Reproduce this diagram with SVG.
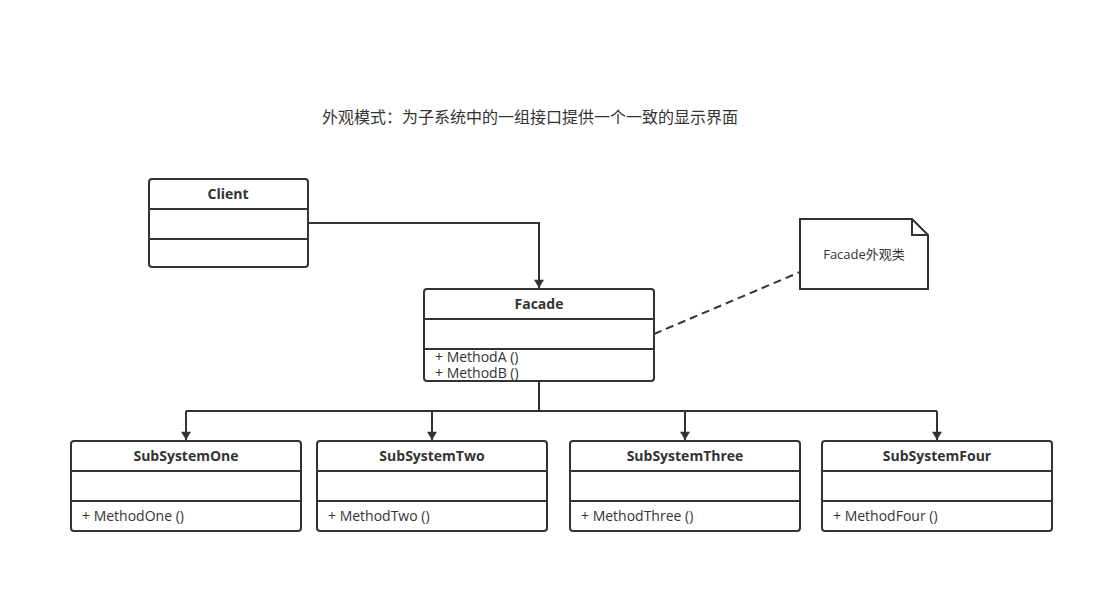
<svg xmlns="http://www.w3.org/2000/svg" width="1114" height="593" viewBox="0 0 1114 593">
<style>
.box{fill:#fff;stroke:#333;stroke-width:2}
.div{stroke:#333;stroke-width:2}
.t{font-family:"Open Sans","Noto Sans CJK SC",sans-serif;font-size:14px;fill:#333}
.b{font-weight:bold;text-anchor:middle}
.n{font-size:13px}
.con{fill:none;stroke:#333;stroke-width:2}
</style>
<defs>
<marker id="arr" viewBox="0 0 10 12" refX="10" refY="6" markerWidth="12" markerHeight="10" markerUnits="userSpaceOnUse" orient="auto">
<path d="M0,0 L10,6 L0,12 Z" fill="#333"/>
</marker>
</defs>
<rect width="1114" height="593" fill="#fff"/>
<text x="530" y="123" text-anchor="middle" font-family="'Noto Sans CJK SC',sans-serif" font-size="16" fill="#333">外观模式：为子系统中的一组接口提供一个一致的显示界面</text>
<g id="connectors">
<path class="con" d="M308,223 H539 V288" marker-end="url(#arr)"/>
<path class="con" d="M539,381 V411"/>
<path class="con" d="M186,411 H937"/>
<path class="con" d="M186,411 V440" marker-end="url(#arr)"/>
<path class="con" d="M432,411 V440" marker-end="url(#arr)"/>
<path class="con" d="M685,411 V440" marker-end="url(#arr)"/>
<path class="con" d="M937,411 V440" marker-end="url(#arr)"/>
<path class="con" d="M654,334 L800,272" stroke-dasharray="8,5"/>
</g>
<g id="client">
<rect class="box" x="149" y="179" width="159" height="88" rx="3"/>
<line class="div" x1="149" y1="209" x2="308" y2="209"/>
<line class="div" x1="149" y1="239" x2="308" y2="239"/>
<text class="t b" x="228" y="199">Client</text>
</g>
<g id="facade">
<rect class="box" x="424" y="289" width="230" height="92" rx="3"/>
<line class="div" x1="424" y1="319" x2="654" y2="319"/>
<line class="div" x1="424" y1="349" x2="654" y2="349"/>
<text class="t b" x="539" y="309">Facade</text>
<text class="t" x="435" y="362">+ MethodA ()</text>
<text class="t" x="435" y="378">+ MethodB ()</text>
</g>
<g id="note">
<path class="box" d="M800,219 H912 L928,235 V289 H800 Z"/>
<path class="con" d="M912,219 V235 H928"/>
<text class="t n" x="864" y="259" text-anchor="middle">Facade外观类</text>
</g>
<g id="subOne">
<rect class="box" x="71" y="441" width="230" height="90" rx="3"/>
<line class="div" x1="71" y1="471" x2="301" y2="471"/>
<line class="div" x1="71" y1="501" x2="301" y2="501"/>
<text class="t b" x="186" y="461">SubSystemOne</text>
<text class="t" x="82" y="521">+ MethodOne ()</text>
</g>
<g id="subTwo">
<rect class="box" x="317" y="441" width="230" height="90" rx="3"/>
<line class="div" x1="317" y1="471" x2="547" y2="471"/>
<line class="div" x1="317" y1="501" x2="547" y2="501"/>
<text class="t b" x="432" y="461">SubSystemTwo</text>
<text class="t" x="328" y="521">+ MethodTwo ()</text>
</g>
<g id="subThree">
<rect class="box" x="570" y="441" width="230" height="90" rx="3"/>
<line class="div" x1="570" y1="471" x2="800" y2="471"/>
<line class="div" x1="570" y1="501" x2="800" y2="501"/>
<text class="t b" x="685" y="461">SubSystemThree</text>
<text class="t" x="581" y="521">+ MethodThree ()</text>
</g>
<g id="subFour">
<rect class="box" x="822" y="441" width="230" height="90" rx="3"/>
<line class="div" x1="822" y1="471" x2="1052" y2="471"/>
<line class="div" x1="822" y1="501" x2="1052" y2="501"/>
<text class="t b" x="937" y="461">SubSystemFour</text>
<text class="t" x="833" y="521">+ MethodFour ()</text>
</g>
</svg>
